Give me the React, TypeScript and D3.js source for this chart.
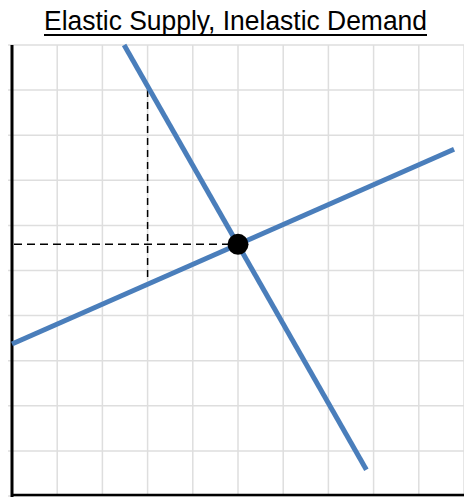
import React from "react";
import * as d3 from "d3";

const title = "Elastic Supply, Inelastic Demand";
const gridSteps = [0, 1, 2, 3, 4, 5, 6, 7, 8, 9, 10];
const demandQ = [2.48, 7.84];
const demandP = [10.0, 0.58];
const supplyQ = [0, 9.78];
const supplyP = [3.37, 7.69];
const equilibrium = { q: 5.0, p: 5.58 };
const guideQ = 3;
const guideTopP = 9.0;
const guideBottomP = 4.75;

const W = 464;
const H = 497;

export default function App() {
  const x = d3.scaleLinear().domain([0, 10]).range([12, 464]);
  const y = d3.scaleLinear().domain([0, 10]).range([496, 45]);
  const line = d3
    .line<[number, number]>()
    .x((d) => x(d[0]))
    .y((d) => y(d[1]));
  const demand = demandQ.map((q, i) => [q, demandP[i]] as [number, number]);
  const supply = supplyQ.map((q, i) => [q, supplyP[i]] as [number, number]);
  const blue = "#4a7ebb";
  const grid = "#dedede";

  return (
    <svg
      width={W}
      height={H}
      style={{ position: "absolute", left: 0, top: 0, background: "#fff" }}
    >
      {gridSteps.map((v) => (
        <line
          key={"v" + v}
          x1={x(v)}
          x2={x(v)}
          y1={y(10)}
          y2={y(0)}
          stroke={grid}
          strokeWidth={1.5}
        />
      ))}
      {gridSteps.map((v) => (
        <line
          key={"h" + v}
          x1={x(0) - 4}
          x2={x(10)}
          y1={y(v)}
          y2={y(v)}
          stroke={grid}
          strokeWidth={1.5}
        />
      ))}
      <line x1={x(0)} x2={x(0)} y1={y(10)} y2={H} stroke="#000" strokeWidth={3} />
      <line x1={x(0)} x2={x(10)} y1={y(0) - 1} y2={y(0) - 1} stroke="#000" strokeWidth={2.5} />
      <line
        x1={x(0) + 2}
        x2={x(equilibrium.q)}
        y1={y(equilibrium.p)}
        y2={y(equilibrium.p)}
        stroke="#000"
        strokeWidth={1.5}
        strokeDasharray="8,5"
      />
      <line
        x1={x(guideQ)}
        x2={x(guideQ)}
        y1={y(guideTopP)}
        y2={y(guideBottomP)}
        stroke="#000"
        strokeWidth={1.5}
        strokeDasharray="7,5"
      />
      <path d={line(demand) ?? ""} stroke={blue} strokeWidth={5} fill="none" />
      <path d={line(supply) ?? ""} stroke={blue} strokeWidth={5} fill="none" />
      <circle cx={x(equilibrium.q)} cy={y(equilibrium.p)} r={10.5} fill="#000" />
      <text
        x={235.5}
        y={30}
        textAnchor="middle"
        fontFamily="'Liberation Sans Narrow', 'Arial Narrow', sans-serif"
        fontSize={27}
        textLength={383}
        lengthAdjust="spacingAndGlyphs"
        fill="#000"
      >
        {title}
      </text>
      <line x1={44} x2={427} y1={35} y2={35} stroke="#000" strokeWidth={2} />
    </svg>
  );
}
